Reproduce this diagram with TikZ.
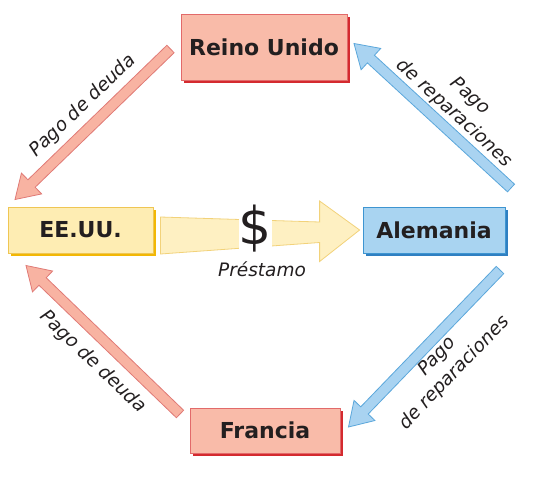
\documentclass[tikz,border=0pt]{standalone}
\usepackage{fontspec}
\setmainfont{DejaVu Sans}
\usetikzlibrary{calc,shadows}
\definecolor{txt}{HTML}{231F20}
\definecolor{redfill}{HTML}{F9BBA9}
\definecolor{redline}{HTML}{E26A6A}
\definecolor{redshadow}{HTML}{D42A2F}
\definecolor{yelfill}{HTML}{FEEDB3}
\definecolor{yelline}{HTML}{EFC653}
\definecolor{yelshadow}{HTML}{F2B705}
\definecolor{bluefill}{HTML}{A9D4F1}
\definecolor{blueline}{HTML}{3E95D1}
\definecolor{blueshadow}{HTML}{2F7FC1}
\definecolor{redarrow}{HTML}{F8B3A2}
\definecolor{redarrowline}{HTML}{E07A76}
\definecolor{bluearrow}{HTML}{A9D3F1}
\definecolor{bluearrowline}{HTML}{5BA7DB}
\definecolor{yelarrow}{HTML}{FEF0C2}
\definecolor{yelarrowline}{HTML}{F2D27A}
\newcommand\fatarrow[3]{%
  \coordinate (fahb) at ($(#2)!23pt!(#1)$);
  \draw[#3] ($(#1)!5.2pt!90:(#2)$) -- ($(fahb)!5.2pt!90:(#2)$) -- ($(fahb)!14.5pt!90:(#2)$) -- (#2)
    -- ($(fahb)!14.5pt!-90:(#2)$) -- ($(fahb)!5.2pt!-90:(#2)$) -- ($(#1)!5.2pt!-90:(#2)$) -- cycle;
}
\tikzset{
  boxtext/.style={font=\bfseries\fontsize{22}{26}\selectfont, text=txt, inner sep=0pt},
  redbox/.style={boxtext, fill=redfill, draw=redline, line width=0.8pt,
    general shadow={fill=redshadow, shadow xshift=2.5pt, shadow yshift=-2.5pt}},
  yelbox/.style={boxtext, fill=yelfill, draw=yelline, line width=0.8pt,
    general shadow={fill=yelshadow, shadow xshift=2.5pt, shadow yshift=-2.5pt}},
  bluebox/.style={boxtext, fill=bluefill, draw=blueline, line width=0.8pt,
    general shadow={fill=blueshadow, shadow xshift=2.5pt, shadow yshift=-2.5pt}},
  redarr/.style={fill=redarrow, draw=redarrowline, line width=0.8pt},
  bluearr/.style={fill=bluearrow, draw=bluearrowline, line width=0.8pt},
  yelarr/.style={fill=yelarrow, draw=yelarrowline, line width=0.8pt},
  lbl/.style={font=\itshape\fontsize{18.5}{23.5}\selectfont, text=txt, align=center, inner sep=0pt},
}
\begin{document}
\begin{tikzpicture}[x=1pt, y=-1pt]
\useasboundingbox[fill=white] (0,0) rectangle (541,480);
% boxes
\node[redbox, minimum width=166pt, minimum height=66pt] (ru) at (264,47) {Reino Unido};
\node[yelbox, minimum width=145pt, minimum height=46pt] (ee) at (80.5,230) {EE.UU.};
\node[bluebox, minimum width=142pt, minimum height=46pt] (al) at (434,230) {Alemania};
\node[redbox, minimum width=150pt, minimum height=45pt] (fr) at (265,430.5) {Francia};
% arrow end points
\coordinate (a1s) at (170.5,49);
\coordinate (a1e) at (15,199.5);
\coordinate (a2s) at (511,188);
\coordinate (a2e) at (354,43.5);
\coordinate (a3s) at (500,270);
\coordinate (a3e) at (348.5,427);
\coordinate (a4s) at (180,414);
\coordinate (a4e) at (26,265.5);
\fatarrow{a1s}{a1e}{redarr}
\fatarrow{a2s}{a2e}{bluearr}
\fatarrow{a3s}{a3e}{bluearr}
\fatarrow{a4s}{a4e}{redarr}
% loan arrow
\coordinate (ys) at ($(ee.east)+(7,0)$);
\coordinate (yt) at ($(al.west)+(-3,0)$);
\draw[yelarr] ($(ys)+(0,-13)$) -- ($(yt)+(-40,-8)$) -- ($(yt)+(-40,-29)$) -- (yt)
  -- ($(yt)+(-40,31.5)$) -- ($(yt)+(-40,12.5)$) -- ($(ys)+(0,24)$) -- cycle;
\node[fill=white, inner sep=0pt, font=\fontsize{52}{52}\selectfont, text=txt] (dollar) at (255.5,229) {\$};
\node[lbl] (prest) at (262,269) {Préstamo};
% labels
\node[lbl, rotate=44] (l1) at (83,106) {Pago de deuda};
\node[lbl, rotate=-42.7] (l2) at (462,105) {Pago\\de reparaciones};
\node[lbl, rotate=46] (l3) at (446,365) {Pago\\de reparaciones};
\node[lbl, rotate=-44] (l4) at (93,362) {Pago de deuda};
\end{tikzpicture}
\end{document}
